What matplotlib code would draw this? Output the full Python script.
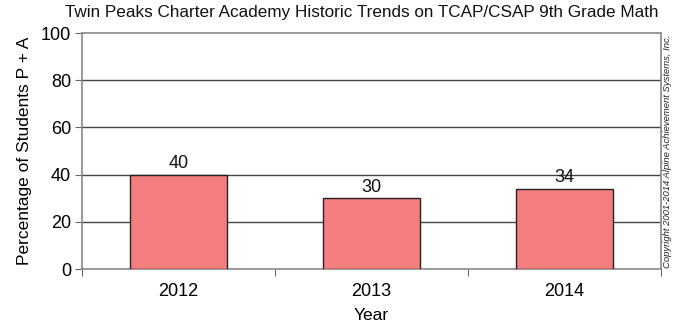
import matplotlib
matplotlib.use("Agg")
import matplotlib.pyplot as plt
from matplotlib.ticker import FixedLocator

years = ["2012", "2013", "2014"]
values = [40, 30, 34]
yticks = [0, 20, 40, 60, 80, 100]

plt.rcParams['font.family'] = ['Liberation Sans', 'DejaVu Sans']

fig = plt.figure(figsize=(6.83, 3.28), dpi=100)
ax = fig.add_axes([82/683, 1-269/328, (661-82)/683, (269-33)/328])

x = list(range(len(years)))
bars = ax.bar(x, values, width=0.5, color='#F47D7F', edgecolor='#222222', linewidth=1.0, zorder=3)
for xi, v in zip(x, values):
    ax.text(xi, v + 1.0, str(v), ha='center', va='bottom', fontsize=13, color='#111111', zorder=4)

ax.set_xlim(-0.5, len(years) - 0.5)
ax.set_ylim(0, 100)
ax.set_yticks(yticks)
ax.set_yticklabels([str(t) for t in yticks], fontsize=13)
ax.set_xticks(x)
ax.set_xticklabels(years, fontsize=13)
ax.tick_params(axis='x', length=0, pad=10)
ax.xaxis.set_minor_locator(FixedLocator([i - 0.5 for i in range(len(years) + 1)]))
ax.tick_params(axis='x', which='minor', length=5, color='#444444', direction='out')
ax.tick_params(axis='y', length=5, color='#666666', direction='out', pad=3)

for t in yticks[1:-1]:
    ax.axhline(t, color='#444444', linewidth=1.0, zorder=1)

for side in ['top', 'right', 'left', 'bottom']:
    ax.spines[side].set_color('#888888')
    ax.spines[side].set_linewidth(1.2)

ax.set_xlabel("Year", fontsize=12.5, labelpad=6)
ax.set_ylabel("Percentage of Students P + A", fontsize=12.5, labelpad=6)
fig.text(362/683, 1 - 12/328, "Twin Peaks Charter Academy Historic Trends on TCAP/CSAP 9th Grade Math",
         ha='center', va='center', fontsize=12.3, color='#111111')
fig.text(668/683, 1 - 151/328, "Copyright 2001-2014 Alpine Achievement Systems, Inc.",
         rotation=90, ha='center', va='center', fontsize=6.8, style='italic', color='#222222')

fig.savefig("out.png", dpi=100)
